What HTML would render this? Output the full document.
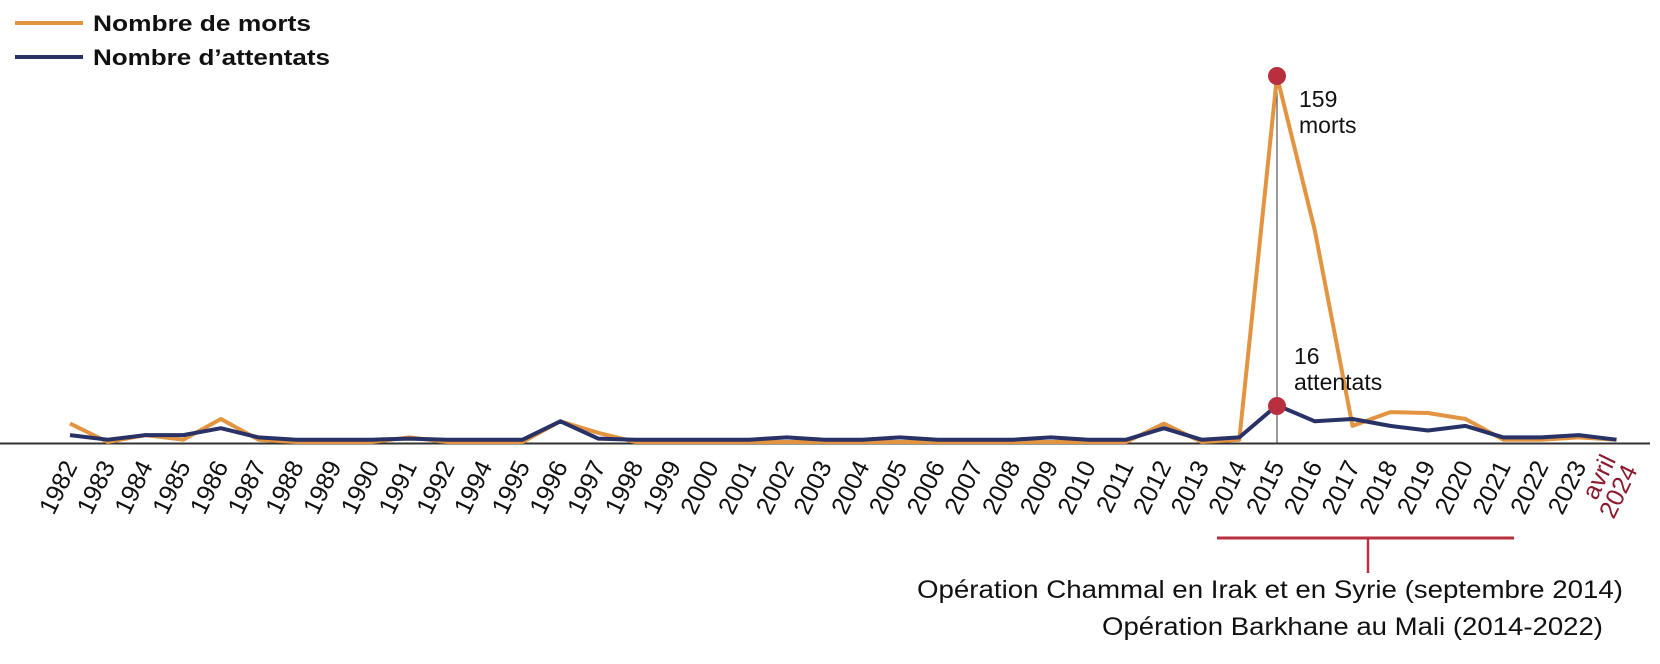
<!DOCTYPE html>
<html><head><meta charset="utf-8"><style>
html,body{margin:0;padding:0;background:#fff;}
svg{display:block;font-family:"Liberation Sans",sans-serif;}
</style></head><body>
<svg width="1660" height="664" viewBox="0 0 1660 664" xmlns="http://www.w3.org/2000/svg">
<line x1="15" y1="23" x2="83" y2="23" stroke="#e39440" stroke-width="4"/>
<line x1="15" y1="57" x2="83" y2="57" stroke="#283266" stroke-width="4"/>
<text x="93" y="31" font-size="22" font-weight="bold" fill="#111" textLength="218" lengthAdjust="spacingAndGlyphs">Nombre de morts</text>
<text x="93" y="65" font-size="22" font-weight="bold" fill="#111" textLength="237" lengthAdjust="spacingAndGlyphs">Nombre d’attentats</text>
<line x1="0" y1="443.5" x2="1650" y2="443.5" stroke="#333" stroke-width="2"/>
<line x1="1277" y1="76" x2="1277" y2="443" stroke="#333" stroke-width="1"/>
<polyline fill="none" stroke="#e39440" stroke-width="4" stroke-linejoin="round" points="70,423.6 107.7,442 145.4,435.1 183.2,439.7 220.9,419 258.6,439.7 296.3,442 334,442 371.8,442 409.5,437.4 447.2,442 484.9,442 522.6,442 560.4,421.3 598.1,432.8 635.8,442 673.5,442 711.2,442 749,442 786.7,442 824.4,442 862.1,442 899.8,442 937.6,442 975.3,442 1013,442 1050.7,442 1088.4,442 1126.2,442 1163.9,423.6 1201.6,442 1239.3,439.7 1277,76.3 1314.8,230.4 1352.5,425.9 1390.2,412.1 1427.9,413 1465.6,419 1503.4,439.7 1541.1,439.7 1578.8,437.4 1616.5,439.7"/>
<polyline fill="none" stroke="#283266" stroke-width="4" stroke-linejoin="round" points="70,435.1 107.7,439.7 145.4,435.1 183.2,435.1 220.9,428.2 258.6,437.4 296.3,439.7 334,439.7 371.8,439.7 409.5,438.6 447.2,439.7 484.9,439.7 522.6,439.7 560.4,421.3 598.1,438.6 635.8,439.7 673.5,439.7 711.2,439.7 749,439.7 786.7,437.4 824.4,439.7 862.1,439.7 899.8,437.4 937.6,439.7 975.3,439.7 1013,439.7 1050.7,437.4 1088.4,439.7 1126.2,439.7 1163.9,428.2 1201.6,439.7 1239.3,437.4 1277,405.2 1314.8,421.3 1352.5,419 1390.2,425.9 1427.9,430.5 1465.6,425.9 1503.4,437.4 1541.1,437.4 1578.8,435.1 1616.5,439.7"/>
<circle cx="1277" cy="76" r="9" fill="#b8303f"/>
<circle cx="1277" cy="406" r="9" fill="#b8303f"/>
<text x="1299" y="107" font-size="23" fill="#111">159</text>
<text x="1299" y="133" font-size="23" fill="#111">morts</text>
<text x="1294" y="364" font-size="23" fill="#111">16</text>
<text x="1294" y="390" font-size="23" fill="#111">attentats</text>
<g font-size="25" fill="#111" text-anchor="end">
<text transform="translate(78,466) rotate(-64)">1982</text>
<text transform="translate(115.7,466) rotate(-64)">1983</text>
<text transform="translate(153.4,466) rotate(-64)">1984</text>
<text transform="translate(191.2,466) rotate(-64)">1985</text>
<text transform="translate(228.9,466) rotate(-64)">1986</text>
<text transform="translate(266.6,466) rotate(-64)">1987</text>
<text transform="translate(304.3,466) rotate(-64)">1988</text>
<text transform="translate(342,466) rotate(-64)">1989</text>
<text transform="translate(379.8,466) rotate(-64)">1990</text>
<text transform="translate(417.5,466) rotate(-64)">1991</text>
<text transform="translate(455.2,466) rotate(-64)">1992</text>
<text transform="translate(492.9,466) rotate(-64)">1994</text>
<text transform="translate(530.6,466) rotate(-64)">1995</text>
<text transform="translate(568.4,466) rotate(-64)">1996</text>
<text transform="translate(606.1,466) rotate(-64)">1997</text>
<text transform="translate(643.8,466) rotate(-64)">1998</text>
<text transform="translate(681.5,466) rotate(-64)">1999</text>
<text transform="translate(719.2,466) rotate(-64)">2000</text>
<text transform="translate(757,466) rotate(-64)">2001</text>
<text transform="translate(794.7,466) rotate(-64)">2002</text>
<text transform="translate(832.4,466) rotate(-64)">2003</text>
<text transform="translate(870.1,466) rotate(-64)">2004</text>
<text transform="translate(907.8,466) rotate(-64)">2005</text>
<text transform="translate(945.6,466) rotate(-64)">2006</text>
<text transform="translate(983.3,466) rotate(-64)">2007</text>
<text transform="translate(1021,466) rotate(-64)">2008</text>
<text transform="translate(1058.7,466) rotate(-64)">2009</text>
<text transform="translate(1096.4,466) rotate(-64)">2010</text>
<text transform="translate(1134.2,466) rotate(-64)">2011</text>
<text transform="translate(1171.9,466) rotate(-64)">2012</text>
<text transform="translate(1209.6,466) rotate(-64)">2013</text>
<text transform="translate(1247.3,466) rotate(-64)">2014</text>
<text transform="translate(1285,466) rotate(-64)">2015</text>
<text transform="translate(1322.8,466) rotate(-64)">2016</text>
<text transform="translate(1360.5,466) rotate(-64)">2017</text>
<text transform="translate(1398.2,466) rotate(-64)">2018</text>
<text transform="translate(1435.9,466) rotate(-64)">2019</text>
<text transform="translate(1473.6,466) rotate(-64)">2020</text>
<text transform="translate(1511.4,466) rotate(-64)">2021</text>
<text transform="translate(1549.1,466) rotate(-64)">2022</text>
<text transform="translate(1586.8,466) rotate(-64)">2023</text>
<text transform="translate(1616.5,460) rotate(-64)" fill="#8b1a2e">avril</text>
<text transform="translate(1638,470) rotate(-64)" fill="#8b1a2e">2024</text>
</g>
<line x1="1217" y1="538" x2="1514" y2="538" stroke="#b8303f" stroke-width="3"/>
<line x1="1368" y1="538" x2="1368" y2="573" stroke="#b8303f" stroke-width="2.5"/>
<text x="1623" y="598" font-size="25" fill="#111" text-anchor="end" textLength="706" lengthAdjust="spacingAndGlyphs">Opération Chammal en Irak et en Syrie (septembre 2014)</text>
<text x="1603" y="635" font-size="25" fill="#111" text-anchor="end" textLength="501" lengthAdjust="spacingAndGlyphs">Opération Barkhane au Mali (2014-2022)</text>
</svg>
</body></html>
